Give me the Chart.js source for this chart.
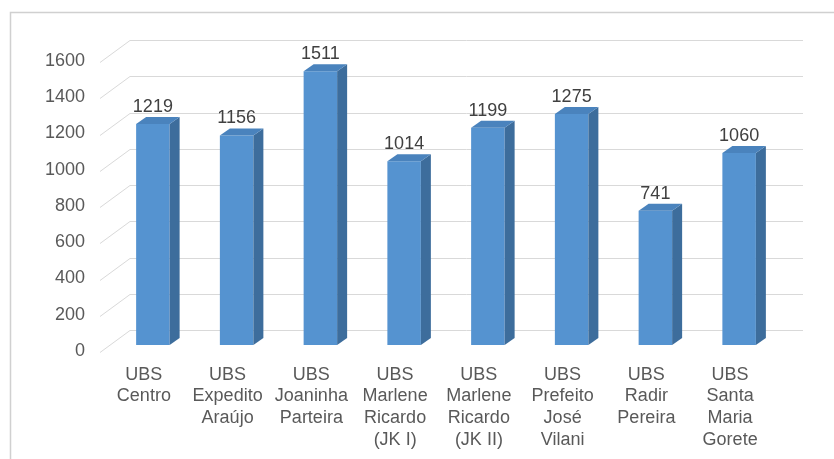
<!DOCTYPE html>
<html>
<head>
<meta charset="utf-8">
<script src="https://cdn.jsdelivr.net/npm/chart.js@4.4.0/dist/chart.umd.min.js"></script>
<style>
    body { margin: 0; background: #fff; }
    #wrap { width: 834px; height: 459px; }
</style>
</head>
<body>
<div id="wrap"><canvas id="grafico" width="834" height="459"></canvas></div>
<script>
// Dados do gráfico
const unidades = [
    ['UBS', 'Centro'],
    ['UBS', 'Expedito', 'Araújo'],
    ['UBS', 'Joaninha', 'Parteira'],
    ['UBS', 'Marlene', 'Ricardo', '(JK I)'],
    ['UBS', 'Marlene', 'Ricardo', '(JK II)'],
    ['UBS', 'Prefeito', 'José', 'Vilani'],
    ['UBS', 'Radir', 'Pereira'],
    ['UBS', 'Santa', 'Maria', 'Gorete']
];
const atendimentos = [1219, 1156, 1511, 1014, 1199, 1275, 741, 1060];
const eixoY = { min: 0, max: 1600, passo: 200 };

const fonte = { family: '"Liberation Sans", Arial, sans-serif', size: 18 };

// Efeito 3D: parede de fundo, faces laterais e topo das barras
const efeito3d = {
    id: 'efeito3d',
    beforeDraw(chart) {
        const ctx = chart.ctx;
        ctx.save();
        ctx.fillStyle = '#fff';
        ctx.fillRect(0, 0, chart.width, chart.height);
        ctx.strokeStyle = '#d0d0d0';
        ctx.lineWidth = 1.5;
        ctx.beginPath();
        ctx.moveTo(10.5, chart.height);
        ctx.lineTo(10.5, 12.5);
        ctx.lineTo(chart.width, 12.5);
        ctx.stroke();
        ctx.restore();
    },
    beforeDatasetsDraw(chart) {
        const { ctx, chartArea: a, scales: { y } } = chart;
        ctx.save();
        ctx.strokeStyle = '#d9d9d9';
        ctx.lineWidth = 1;
        y.ticks.forEach(t => {
            const py = Math.round(y.getPixelForValue(t.value)) + 0.5;
            ctx.beginPath();
            ctx.moveTo(a.left - 11, py + 7);
            ctx.lineTo(a.left + 19, py - 15);
            ctx.lineTo(a.right + 22, py - 15);
            ctx.stroke();
        });
        ctx.restore();
    },
    afterDatasetsDraw(chart) {
        const ctx = chart.ctx;
        const meta = chart.getDatasetMeta(0);
        const dx = 10, dy = 7;
        ctx.save();
        meta.data.forEach((bar, i) => {
            const meio = bar.width / 2;
            const esq = bar.x - meio, dir = bar.x + meio;
            // lateral
            ctx.fillStyle = '#3d6d9c';
            ctx.beginPath();
            ctx.moveTo(dir, bar.y);
            ctx.lineTo(dir + dx, bar.y - dy);
            ctx.lineTo(dir + dx, bar.base - dy);
            ctx.lineTo(dir, bar.base);
            ctx.closePath();
            ctx.fill();
            // topo
            ctx.fillStyle = '#4a83bd';
            ctx.beginPath();
            ctx.moveTo(esq, bar.y);
            ctx.lineTo(esq + dx, bar.y - dy);
            ctx.lineTo(dir + dx, bar.y - dy);
            ctx.lineTo(dir, bar.y);
            ctx.closePath();
            ctx.fill();
            // rótulo
            ctx.fillStyle = '#404040';
            ctx.font = `${fonte.size}px ${fonte.family}`;
            ctx.textAlign = 'center';
            ctx.textBaseline = 'alphabetic';
            ctx.fillText(atendimentos[i], bar.x, bar.y - 12);
        });
        ctx.restore();
    }
};

new Chart(document.getElementById('grafico'), {
    type: 'bar',
    data: {
        labels: unidades,
        datasets: [{
            data: atendimentos,
            backgroundColor: '#5593d0',
            categoryPercentage: 1,
            barPercentage: 0.4
        }]
    },
    options: {
        responsive: false,
        animation: false,
        layout: { padding: { top: 55, right: 53, left: 0, bottom: 0 } },
        plugins: {
            legend: { display: false },
            tooltip: { enabled: false }
        },
        scales: {
            x: {
                grid: { display: false, drawTicks: false },
                border: { display: false },
                ticks: {
                    color: '#595959',
                    font: { ...fonte, lineHeight: 1.2 },
                    padding: 19,
                    labelOffset: -9,
                    maxRotation: 0,
                    autoSkip: false
                },
                afterFit(scale) { scale.height = 114; }
            },
            y: {
                min: eixoY.min,
                max: eixoY.max,
                grid: { display: false, drawTicks: false },
                border: { display: false },
                ticks: {
                    stepSize: eixoY.passo,
                    color: '#595959',
                    font: fonte,
                    padding: 26,
                    labelOffset: 6,
                    callback: v => String(v)
                },
                afterFit(scale) { scale.width = 111; }
            }
        }
    },
    plugins: [efeito3d]
});
</script>
</body>
</html>
